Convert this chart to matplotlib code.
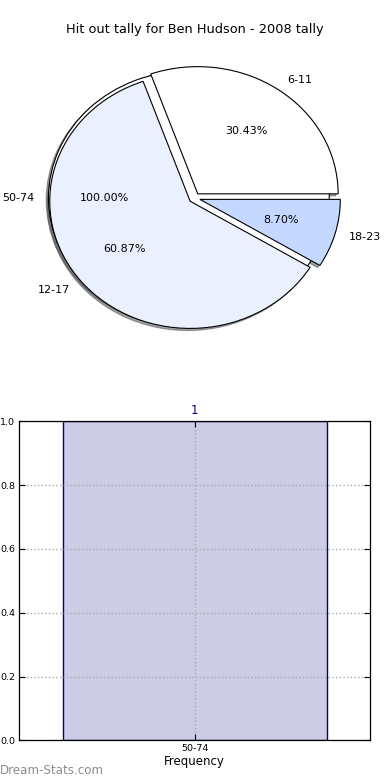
import matplotlib
matplotlib.use('Agg')
import matplotlib.pyplot as plt

# pie data (the 50-74 circle sits underneath the age groups)
under_labels = ['50-74']
under_values = [1]
age_labels = ['6-11', '12-17', '18-23']
age_values = [7, 14, 2]
age_colors = ['#ffffff', '#eaf0fe', '#c5d8ff']

# histogram data
bar_labels = ['50-74']
bar_values = [1]

W, H = 390, 780
fig = plt.figure(figsize=(W / 100, H / 100), dpi=100)
fig.patch.set_facecolor('white')

fig.text(0.5, 1 - 30 / H, 'Hit out tally for Ben Hudson - 2008 tally',
         ha='center', va='center', fontsize=9.3)

ax1 = fig.add_axes([19 / W, (H - 357) / H, 351 / W, 318 / H])
edge = {'edgecolor': 'black', 'linewidth': 0.8}
shadow = {'ox': -0.012, 'oy': -0.012}
tp = {'fontsize': 8}

ax1.pie(under_values, labels=under_labels, colors=['white'], explode=[0.04],
        autopct='%.2f%%', shadow=shadow, wedgeprops=edge, textprops=tp)
ax1.pie(age_values, labels=age_labels, colors=age_colors,
        explode=[0.04] * len(age_values), autopct='%.2f%%',
        shadow=shadow, wedgeprops=edge, textprops=tp)
ax1.set_aspect('auto')
ax1.set_xlim(-1.25, 1.25)
ax1.set_ylim(-1.25, 1.25)
ax1.axis('off')

ax2 = fig.add_axes([19.3 / W, (H - 740.3) / H, 350.7 / W, 319 / H])
xs = list(range(len(bar_values)))
bars = ax2.bar(xs, bar_values, width=0.8, facecolor=(0, 0, 0.5, 0.2),
               edgecolor='navy', linewidth=1)
for b, v in zip(bars, bar_values):
    ax2.annotate(f'{v}', xy=(b.get_x() + b.get_width() / 2, b.get_height()),
                 xytext=(0, 3), textcoords='offset points',
                 ha='center', va='bottom', fontsize=8.5, color='navy')
ax2.set_xlim(-0.531, 0.531)
ax2.set_ylim(0, 1)
ax2.set_xticks(xs)
ax2.set_xticklabels(bar_labels)
ax2.set_yticks([0, 0.2, 0.4, 0.6, 0.8, 1.0])
ax2.set_yticklabels(['0.0', '0.2', '0.4', '0.6', '0.8', '1.0'])
ax2.tick_params(direction='in', top=True, right=True, labelsize=6.8,
                length=4, width=0.8, pad=3)
ax2.grid(True, linestyle=':', color='#aaaaaa', linewidth=1)
ax2.set_axisbelow(False)
ax2.set_xlabel('Frequency', fontsize=8.5, labelpad=1)
for s in ax2.spines.values():
    s.set_linewidth(0.9)
    s.set_zorder(5)

fig.text(0.0, (H - 770) / H, 'Dream-Stats.com', ha='left', va='center',
         fontsize=8.6, color='#8c8c8c')

fig.savefig('out.png', dpi=100)
